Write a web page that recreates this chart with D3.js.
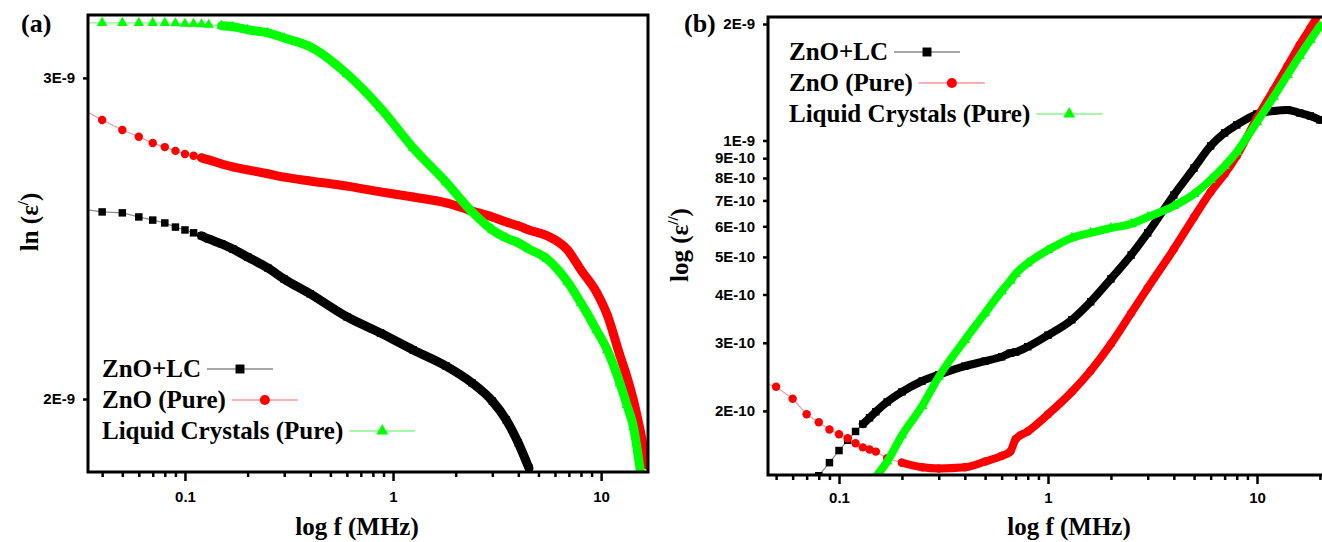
<!DOCTYPE html>
<html>
<head>
<meta charset="utf-8">
<script src="https://cdn.jsdelivr.net/npm/d3@7"></script>
<style>
  body { margin: 0; background: #fff; }
  svg { display: block; }
  .tick text { font-family: "Liberation Sans", Arial, sans-serif; font-weight: bold; font-size: 15px; fill: #000; }
  .ttl { font-family: "Liberation Serif", "Times New Roman", serif; font-weight: bold; font-size: 25px; fill: #000; }
</style>
</head>
<body>
<div id="chart"></div>
<script>
// ---- panel (a): ln(eps') vs f (MHz)
var freqA = [0.03, 0.04, 0.05, 0.06, 0.07, 0.08, 0.09, 0.1, 0.11, 0.12, 0.13, 0.15, 0.17, 0.2, 0.25, 0.3, 0.4, 0.6, 0.87, 1.25,
             1.8, 2.4, 3, 3.5, 4, 4.5, 5.5, 6.9, 8, 9.5, 10.7, 12.3, 13.3, 14.3, 15.4, 16.6];
var epsA_ZnoLc = [2.545e-9, 2.533e-9, 2.530e-9, 2.517e-9, 2.507e-9, 2.498e-9, 2.485e-9, 2.476e-9, 2.467e-9, 2.458e-9, 2.448e-9,
                  2.433e-9, 2.417e-9, 2.393e-9, 2.360e-9, 2.327e-9, 2.284e-9, 2.219e-9, 2.174e-9, 2.128e-9, 2.085e-9, 2.041e-9,
                  1.995e-9, 1.948e-9, 1.892e-9, 1.833e-9];
var epsA_Zno = [2.896e-9, 2.845e-9, 2.809e-9, 2.785e-9, 2.763e-9, 2.749e-9, 2.736e-9, 2.725e-9, 2.719e-9, 2.712e-9, 2.705e-9,
                2.691e-9, 2.681e-9, 2.671e-9, 2.658e-9, 2.647e-9, 2.634e-9, 2.617e-9, 2.598e-9, 2.581e-9, 2.562e-9, 2.536e-9,
                2.517e-9, 2.501e-9, 2.489e-9, 2.476e-9, 2.458e-9, 2.414e-9, 2.354e-9, 2.289e-9, 2.224e-9, 2.114e-9, 2.057e-9,
                1.997e-9, 1.923e-9, 1.840e-9];
var epsA_Lc = [3.216e-9, 3.216e-9, 3.216e-9, 3.216e-9, 3.216e-9, 3.216e-9, 3.214e-9, 3.212e-9, 3.212e-9, 3.210e-9, 3.208e-9,
               3.204e-9, 3.200e-9, 3.188e-9, 3.176e-9, 3.155e-9, 3.120e-9, 3.015e-9, 2.888e-9, 2.746e-9, 2.630e-9, 2.533e-9,
               2.476e-9, 2.451e-9, 2.436e-9, 2.417e-9, 2.387e-9, 2.319e-9, 2.258e-9, 2.182e-9, 2.128e-9, 2.041e-9, 1.985e-9,
               1.931e-9, 1.829e-9];

// ---- panel (b): log(eps'') vs f (MHz)
var freqB = [0.04, 0.05, 0.06, 0.07, 0.08, 0.09, 0.1, 0.11, 0.12, 0.13, 0.14, 0.15, 0.17, 0.2, 0.25, 0.3, 0.4, 0.5, 0.6, 0.66,
             0.7, 0.8, 1, 1.3, 1.6, 2, 2.5, 3, 4, 5, 6, 7, 8, 10, 12, 14, 16, 18, 20];
var epsB_ZnoLc = [null, null, null, 1.25e-10, 1.36e-10, 1.47e-10, 1.58e-10, 1.68e-10, 1.77e-10, 1.85e-10, 1.92e-10, 1.99e-10,
                  2.11e-10, 2.24e-10, 2.39e-10, 2.48e-10, 2.61e-10, 2.69e-10, 2.76e-10, 2.82e-10, 2.84e-10, 2.93e-10, 3.14e-10,
                  3.44e-10, 3.83e-10, 4.39e-10, 5.06e-10, 5.77e-10, 7.23e-10, 8.49e-10, 9.68e-10, 1.046e-9, 1.097e-9, 1.171e-9,
                  1.192e-9, 1.199e-9, 1.178e-9, 1.157e-9, 1.130e-9];
var epsB_Zno = [2.39e-10, 2.31e-10, 2.15e-10, 1.96e-10, 1.87e-10, 1.79e-10, 1.74e-10, 1.70e-10, 1.65e-10, 1.61e-10, 1.59e-10,
                1.57e-10, 1.51e-10, 1.47e-10, 1.43e-10, 1.42e-10, 1.43e-10, 1.48e-10, 1.53e-10, 1.57e-10, 1.69e-10, 1.77e-10,
                1.96e-10, 2.24e-10, 2.54e-10, 2.98e-10, 3.58e-10, 4.16e-10, 5.24e-10, 6.34e-10, 7.36e-10, 8.19e-10, 9.12e-10,
                1.143e-9, 1.351e-9, 1.558e-9, 1.765e-9, 1.953e-9, 2.148e-9];
var epsB_Lc = [null, null, null, null, null, null, null, null, null, null, 1.30e-10, 1.35e-10, 1.48e-10, 1.73e-10, 2.06e-10,
               2.45e-10, 3.05e-10, 3.58e-10, 4.08e-10, 4.34e-10, 4.52e-10, 4.82e-10, 5.21e-10, 5.60e-10, 5.77e-10, 5.94e-10,
               6.09e-10, 6.34e-10, 6.77e-10, 7.27e-10, 7.91e-10, 8.59e-10, 9.34e-10, 1.116e-9, 1.295e-9, 1.477e-9, 1.654e-9,
               1.819e-9, 1.976e-9];

var seriesNames = ["ZnO+LC", "ZnO (Pure)", "Liquid Crystals (Pure)"];
var xMajor = [0.1, 1, 10];
var xMinorA = [0.04, 0.05, 0.06, 0.07, 0.08, 0.09, 0.2, 0.3, 0.4, 0.5, 0.6, 0.7, 0.8, 0.9, 2, 3, 4, 5, 6, 7, 8, 9];
var xMinorB = [0.05, 0.06, 0.07, 0.08, 0.09, 0.2, 0.3, 0.4, 0.5, 0.6, 0.7, 0.8, 0.9, 2, 3, 4, 5, 6, 7, 8, 9, 20];
var yTicksA = [2e-9, 3e-9];
var yTicksB = [2e-10, 3e-10, 4e-10, 5e-10, 6e-10, 7e-10, 8e-10, 9e-10, 1e-9, 2e-9];

var styles = [
  { color: "#000000", thin: "#8a8a8a", sym: d3.symbolSquare,   size: 56, leg: 80 },
  { color: "#ff0000", thin: "#f59a9a", sym: d3.symbolCircle,   size: 56, leg: 80 },
  { color: "#00ff00", thin: "#8cf58c", sym: d3.symbolTriangle, size: 48, leg: 62 }
];

var svg = d3.select("#chart").append("svg")
    .attr("width", 1322)
    .attr("height", 542);

// E-notation labels like 3E-9
function fmtE(v) {
  var e = Math.floor(Math.log10(v) + 1e-9);
  return Math.round(v / Math.pow(10, e)) + "E" + e;
}

function drawPanel(cfg) {
  var g = svg.append("g");
  var x = d3.scaleLog().domain(cfg.xDomain).range([cfg.left, cfg.right]);
  var y = d3.scaleLog().domain(cfg.yDomain).range([cfg.bottom, cfg.top]);

  var clipId = "clip" + cfg.id;
  svg.append("clipPath").attr("id", clipId).append("rect")
      .attr("x", cfg.left).attr("y", cfg.top)
      .attr("width", cfg.right - cfg.left).attr("height", cfg.bottom - cfg.top);

  var plot = g.append("g").attr("clip-path", "url(#" + clipId + ")");

  cfg.series.forEach(function(vals, i) {
    var st = styles[i];
    var pts = [];
    vals.forEach(function(v, k) { if (v != null) pts.push([cfg.freq[k], v]); });

    var line = d3.line().x(function(d) { return x(d[0]); }).y(function(d) { return y(d[1]); });

    // thin connecting line
    plot.append("path")
        .attr("d", line(pts))
        .attr("fill", "none")
        .attr("stroke", st.thin)
        .attr("stroke-width", 1.2);

    // dense part of the record: markers merge into a thick band
    var dense = pts.filter(function(d) { return d[0] >= cfg.bandFrom[i]; });
    plot.append("path")
        .attr("d", line.curve(d3.curveMonotoneX)(dense))
        .attr("fill", "none")
        .attr("stroke", st.color)
        .attr("stroke-width", cfg.bandW)
        .attr("stroke-linecap", "round")
        .attr("stroke-linejoin", "round");

    plot.selectAll(null)
        .data(pts)
        .enter().append("path")
        .attr("transform", function(d) { return "translate(" + x(d[0]) + "," + y(d[1]) + ")"; })
        .attr("d", d3.symbol().type(st.sym).size(st.size))
        .attr("fill", st.color);
  });

  // frame
  g.append("rect")
      .attr("x", cfg.left).attr("y", cfg.top)
      .attr("width", cfg.right - cfg.left).attr("height", cfg.bottom - cfg.top)
      .attr("fill", "none").attr("stroke", "#000").attr("stroke-width", 3);

  // x axis
  var xa = g.append("g").attr("transform", "translate(0," + cfg.bottom + ")")
      .call(d3.axisBottom(x).tickValues(xMajor).tickSize(9).tickPadding(cfg.xPad)
            .tickFormat(function(d) { return String(d); }));
  var xm = g.append("g").attr("transform", "translate(0," + cfg.bottom + ")")
      .call(d3.axisBottom(x).tickValues(cfg.xMinor).tickSize(5).tickFormat(""));

  // y axis
  var ya = g.append("g").attr("transform", "translate(" + cfg.left + ",0)")
      .call(d3.axisLeft(y).tickValues(cfg.yTicks).tickSize(5).tickPadding(8).tickFormat(fmtE));

  [xa, xm, ya].forEach(function(a) {
    a.select(".domain").remove();
    a.selectAll(".tick line").attr("stroke-width", 2.5);
  });

  // titles
  g.append("text").attr("class", "ttl")
      .attr("x", cfg.xTitleX).attr("y", 535)
      .attr("text-anchor", "middle")
      .text("log f (MHz)");

  var yt = g.append("text").attr("class", "ttl")
      .attr("transform", "translate(" + cfg.yTitle[0] + "," + cfg.yTitle[1] + ") rotate(-90)")
      .attr("text-anchor", "middle");
  yt.append("tspan").text(cfg.yPrefix + " (ε");
  yt.append("tspan").attr("dy", -10).attr("font-size", 15).text(cfg.yPrime);
  yt.append("tspan").attr("dy", 10).text(")");

  g.append("text").attr("class", "ttl")
      .attr("x", cfg.tagX).attr("y", 32)
      .style("font-size", "26px")
      .text(cfg.tag);

  // legend
  seriesNames.forEach(function(name, i) {
    var st = styles[i];
    var yb = cfg.legY + i * cfg.legDy;
    var t = g.append("text").attr("class", "ttl")
        .attr("x", cfg.legX).attr("y", yb)
        .text(name);
    var x0 = cfg.legX + t.node().getComputedTextLength() + 6;
    g.append("line")
        .attr("x1", x0).attr("x2", x0 + 66)
        .attr("y1", yb - 8).attr("y2", yb - 8)
        .attr("stroke", st.thin).attr("stroke-width", 1.3);
    g.append("path")
        .attr("d", d3.symbol().type(st.sym).size(st.leg)())
        .attr("transform", "translate(" + (x0 + 33) + "," + (yb - 8) + ")")
        .attr("fill", st.color);
  });
}

drawPanel({
  id: "a", left: 88, right: 648, top: 15, bottom: 472,
  xDomain: [0.0342, 16.8], yDomain: [1.824e-9, 3.248e-9],
  freq: freqA, series: [epsA_ZnoLc, epsA_Zno, epsA_Lc],
  bandFrom: [0.12, 0.12, 0.15], bandW: 9,
  xMinor: xMinorA, yTicks: yTicksA, xPad: 10,
  xTitleX: 357, yTitle: [38, 222], yPrefix: "ln", yPrime: "/",
  tag: "(a)", tagX: 21,
  legX: 102, legY: 377, legDy: 31
});

drawPanel({
  id: "b", left: 768, right: 1330, top: 17, bottom: 475,
  xDomain: [0.04573, 22.35], yDomain: [1.366e-10, 2.085e-9],
  freq: freqB, series: [epsB_ZnoLc, epsB_Zno, epsB_Lc],
  bandFrom: [0.13, 0.2, 0.15], bandW: 8,
  xMinor: xMinorB, yTicks: yTicksB, xPad: 8,
  xTitleX: 1069, yTitle: [688, 245], yPrefix: "log", yPrime: "//",
  tag: "(b)", tagX: 684,
  legX: 789, legY: 60, legDy: 31
});
</script>
</body>
</html>
